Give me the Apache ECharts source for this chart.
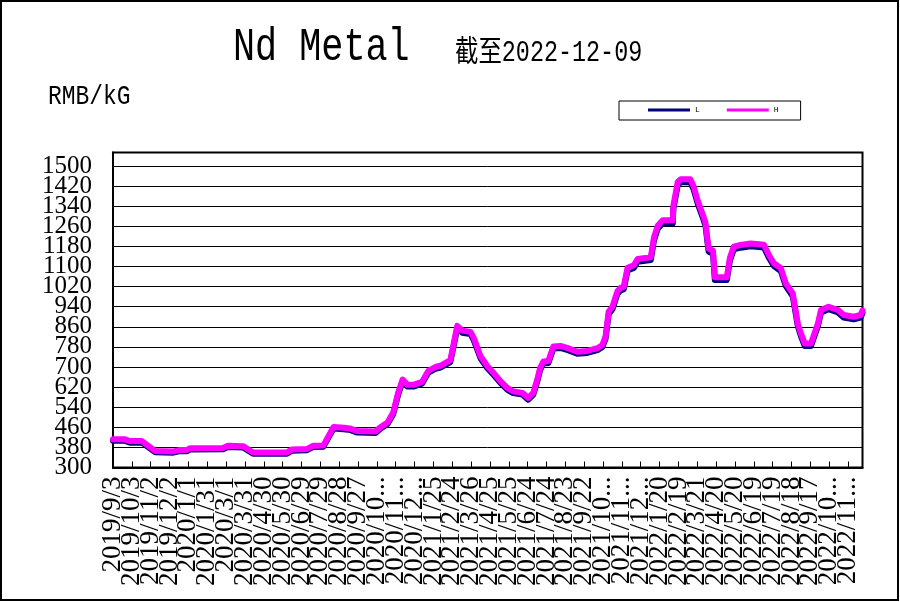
<!DOCTYPE html>
<html>
<head>
<meta charset="utf-8">
<script src="https://cdn.jsdelivr.net/npm/echarts@6/dist/echarts.min.js"></script>
<style>
html,body{margin:0;padding:0;background:#fff;}
#chart{width:900px;height:602px;}
</style>
</head>
<body>
<div id="chart"></div>
<script>
// ---- data ----
const dates = [
 '2019-09-03','2019-09-22','2019-09-30','2019-10-19','2019-11-09','2019-12-08','2019-12-19','2019-12-30',
 '2020-01-04','2020-02-25','2020-03-04','2020-03-28','2020-04-13','2020-06-06','2020-06-14','2020-07-08',
 '2020-07-18','2020-08-03','2020-08-19','2020-09-04','2020-09-15','2020-09-26','2020-10-25','2020-11-01',
 '2020-11-13','2020-11-22','2020-11-30','2020-12-07','2020-12-15','2020-12-24','2021-01-07','2021-01-17',
 '2021-01-28','2021-02-05','2021-02-21','2021-03-04','2021-03-12','2021-03-25','2021-03-30','2021-04-10',
 '2021-04-21','2021-05-01','2021-05-12','2021-05-23','2021-06-01','2021-06-16','2021-06-25','2021-07-03',
 '2021-07-10','2021-07-14','2021-07-19','2021-07-27','2021-08-04','2021-08-15','2021-08-27','2021-09-11',
 '2021-09-27','2021-10-13','2021-10-21','2021-10-26','2021-10-31','2021-11-06','2021-11-14','2021-11-19',
 '2021-11-24','2021-11-30','2021-12-10','2021-12-16','2022-01-06','2022-01-11','2022-01-17','2022-01-25',
 '2022-02-10','2022-02-11','2022-02-18','2022-02-23','2022-03-10','2022-03-15','2022-03-22','2022-03-30',
 '2022-04-03','2022-04-08','2022-04-15','2022-04-18','2022-05-07','2022-05-12','2022-05-18','2022-05-29',
 '2022-06-14','2022-07-05','2022-07-13','2022-07-21','2022-08-01','2022-08-09','2022-08-20','2022-08-28',
 '2022-09-02','2022-09-08','2022-09-18','2022-09-29','2022-10-04','2022-10-16','2022-10-31','2022-11-09',
 '2022-11-25','2022-12-06','2022-12-09'
];
const highPrices = [
 412,412,405,405,366,364,370,370,
 377,378,387,385,360,360,372,374,
 387,388,461,458,455,445,443,459,
 479,519,599,650,629,629,641,685,
 700,705,727,864,845,840,817,743,
 703,676,643,616,603,597,577,597,
 657,697,722,724,782,784,775,761,
 764,775,788,821,921,940,1002,1015,
 1020,1095,1105,1130,1137,1215,1262,1284,
 1284,1342,1437,1448,1448,1420,1360,1305,
 1275,1172,1163,1057,1057,1135,1179,1186,
 1192,1187,1146,1113,1093,1033,993,873,
 833,794,794,873,927,940,927,907,
 900,907,925
];
const lowPrices = [
 406,406,399,399,361,359,365,365,
 372,373,382,380,355,355,367,369,
 382,383,455,452,449,439,437,453,
 473,512,592,642,622,622,634,678,
 693,698,720,855,836,831,808,735,
 695,668,636,609,596,590,570,590,
 649,689,714,716,774,776,767,753,
 756,767,780,812,911,930,992,1005,
 1010,1084,1094,1119,1126,1203,1250,1272,
 1272,1330,1425,1436,1436,1408,1348,1293,
 1263,1160,1151,1046,1046,1124,1168,1175,
 1181,1176,1135,1102,1082,1022,982,863,
 823,784,784,863,917,930,917,897,
 890,897,915
];
const seriesNames = ['L','H'];
const axisStart = '2019-09-03';
const axisEnd = '2022-12-09';
const yTicks = {min:300, step:80, top:1500};

// ---- helpers ----
const DAY = 86400000;
function utc(s){const p=s.split('-').map(Number);return Date.UTC(p[0],p[1]-1,p[2]);}
const base = utc(axisStart);
function dayIndex(s){return Math.round((utc(s)-base)/DAY);}
function fmt(v){const d=new Date(base+v*DAY);return d.getUTCFullYear()+'/'+(d.getUTCMonth()+1)+'/'+d.getUTCDate();}
const lastDay = dayIndex(axisEnd);

const xLabelStyle = {rotate:90, margin:9, fontFamily:'Liberation Serif', fontSize:27, color:'#000',
  width:112, overflow:'truncate', ellipsis:'...'};
const yLabelStyle = {fontFamily:'Liberation Serif', fontSize:25, color:'#000', margin:21};

const chart = echarts.init(document.getElementById('chart'), null, {renderer:'canvas'});
chart.setOption({
  animation:false,
  backgroundColor:'#fff',
  graphic:[
    {type:'rect', shape:{x:1,y:1,width:897,height:599}, style:{fill:'none',stroke:'#000',lineWidth:2}, z:100},
    {type:'text', x:233, y:48, scaleX:0.8, style:{text:'Nd Metal', font:'46px "Liberation Mono"', fill:'#000', textVerticalAlign:'middle'}},
    {type:'text', x:455, y:53, scaleX:0.78, style:{text:'截至2022-12-09', font:'30px "Liberation Mono","Noto Sans CJK SC"', fill:'#000', textVerticalAlign:'middle'}},
    {type:'text', x:48, y:97, scaleX:0.85, style:{text:'RMB/kG', font:'27px "Liberation Mono"', fill:'#000', textVerticalAlign:'middle'}}
  ],
  legend:{
    data:seriesNames, left:619, top:101, orient:'horizontal', icon:'rect',
    itemWidth:42, itemHeight:3, itemGap:27, padding:[5,22,6,29],
    borderColor:'#000', borderWidth:1, backgroundColor:'#fff',
    textStyle:{fontSize:8, fontFamily:'Liberation Mono', color:'#000'}
  },
  grid:{left:113, right:37.5, top:152.5, bottom:134.5, show:true, borderColor:'#000', borderWidth:2, outerBoundsMode:'none', containLabel:false},
  xAxis:[{
    type:'value', min:0, max:lastDay, interval:30, position:'bottom',
    axisLine:{show:true, onZero:false, lineStyle:{color:'#000', width:2}},
    axisTick:{show:true, inside:true, length:6, lineStyle:{color:'#000', width:1}},
    axisLabel:Object.assign({showMinLabel:false, showMaxLabel:false,
      formatter:function(v){return (v>0 && v%30===0)?fmt(v):'';}}, xLabelStyle),
    splitLine:{show:false}
  },{
    type:'value', min:0, max:lastDay, interval:30, position:'bottom',
    axisLine:{show:false}, axisTick:{show:false}, splitLine:{show:false},
    axisLabel:Object.assign({showMinLabel:true, showMaxLabel:false,
      formatter:function(v){return v===0?fmt(v):'';}}, xLabelStyle)
  }],
  yAxis:[{
    type:'value', min:yTicks.min, max:1554, interval:yTicks.step, position:'left',
    axisLine:{show:true, lineStyle:{color:'#000', width:2}},
    axisTick:{show:false},
    axisLabel:Object.assign({showMinLabel:false, showMaxLabel:false,
      formatter:function(v){return (v>yTicks.min && v<=yTicks.top)?String(v):'';}}, yLabelStyle),
    splitLine:{show:true, lineStyle:{color:'#000', width:1}}
  },{
    type:'value', min:yTicks.min, max:1554, interval:yTicks.step, position:'left',
    axisLine:{show:false}, axisTick:{show:false}, splitLine:{show:false},
    axisLabel:Object.assign({showMinLabel:true, showMaxLabel:false,
      formatter:function(v){return v===yTicks.min?String(v):'';}}, yLabelStyle)
  }],
  series:[
    {name:'L', type:'line', xAxisIndex:0, yAxisIndex:0, data:dates.map((d,i)=>[dayIndex(d), lowPrices[i]]), showSymbol:false, symbol:'none',
     lineStyle:{color:'#000080', width:6, join:'round', cap:'round'}, itemStyle:{color:'#000080'}, z:2},
    {name:'H', type:'line', xAxisIndex:0, yAxisIndex:0, data:dates.map((d,i)=>[dayIndex(d), highPrices[i]]), showSymbol:false, symbol:'none',
     lineStyle:{color:'#ff00ff', width:6, join:'round', cap:'round'}, itemStyle:{color:'#ff00ff'}, z:3}
  ]
});
</script>
</body>
</html>
